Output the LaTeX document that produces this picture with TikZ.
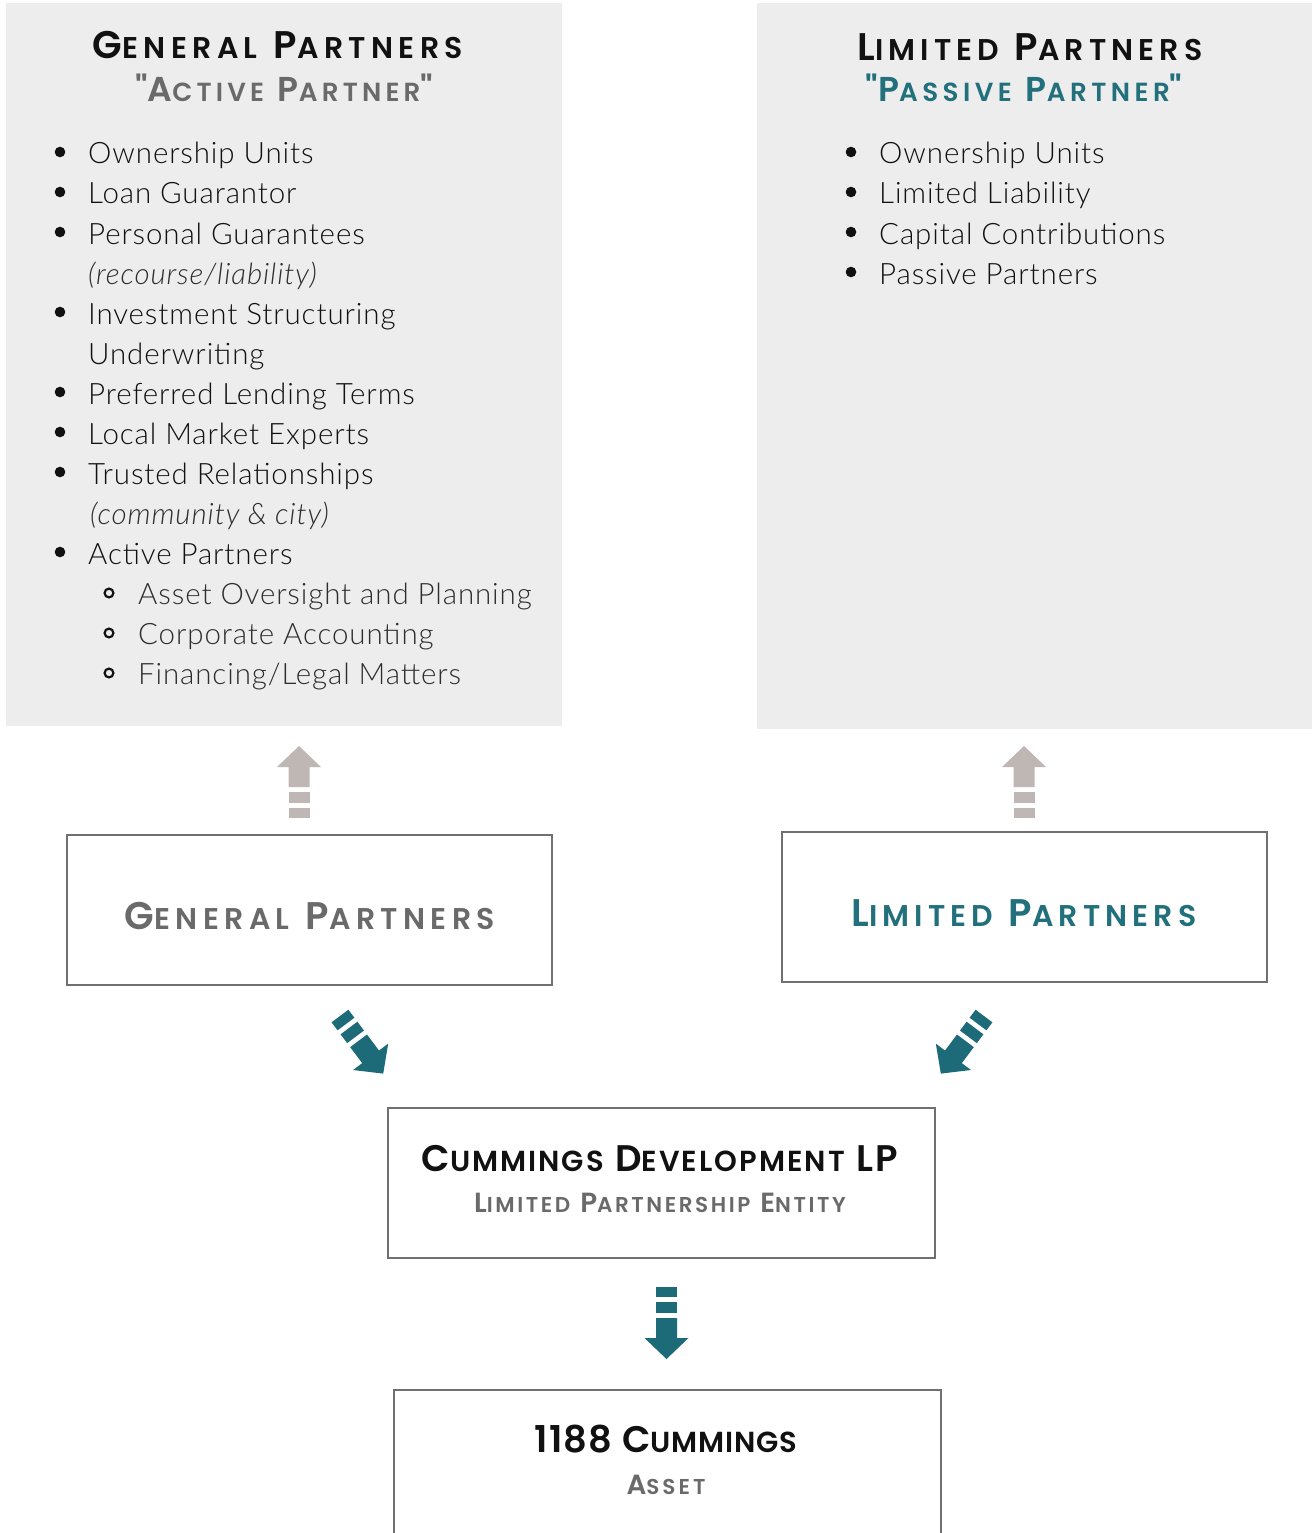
\documentclass[tikz,border=0pt]{standalone}
\usepackage{fontspec}
\newfontfamily\headfont{Poppins}[BoldFont=* SemiBold]
\newfontfamily\bodyfont{Lato}[UprightFont=* Light, ItalicFont=* Light Italic, LetterSpace=3]
\definecolor{panelgrey}{HTML}{EDEDED}
\definecolor{tealc}{HTML}{1D6B79}
\definecolor{tealtxt}{HTML}{21707C}
\definecolor{midgrey}{HTML}{6A6A6A}
\definecolor{boxline}{HTML}{707070}
\definecolor{arrowgrey}{HTML}{BEB7B3}
\definecolor{inkc}{HTML}{111111}
\definecolor{subink}{HTML}{2E2E2E}
% reduced capitals for the small-caps headings
\newcommand\lowcaps[1]{{\fontsize{\lcs}{\lcs}\selectfont #1}}
% tracking for the headings
\newcommand\track[1]{\addfontfeatures{LetterSpace=#1}}
% untracked quote mark
\newcommand\qm{{\addfontfeatures{LetterSpace=0}"}}
\tikzset{
  panel/.style={fill=panelgrey, draw=none, inner sep=0},
  framebox/.style={draw=boxline, line width=2.5pt, fill=white, inner sep=0},
  headA/.style={anchor=base, inner sep=0, font={\headfont\bfseries\fontsize{37}{37}\selectfont\def\lcs{29}}},
  headE/.style={anchor=base, inner sep=0, font={\headfont\bfseries\fontsize{38.5}{38.5}\selectfont\def\lcs{30}}},
  headB/.style={anchor=base, inner sep=0, font={\headfont\bfseries\fontsize{34.5}{34.5}\selectfont\def\lcs{26.2}}},
  headD/.style={anchor=base, inner sep=0, font={\headfont\bfseries\fontsize{27.7}{27.7}\selectfont\def\lcs{21.5}}},
  item/.style={anchor=base west, inner sep=0, text=inkc, font={\bodyfont\fontsize{29.5}{29.5}\selectfont}},
  subitem/.style={item, text=subink},
  note/.style={item, text=subink, font={\bodyfont\itshape\fontsize{29.5}{29.5}\selectfont}},
  pics/dasharrow/.style={code={
    \fill (0,-10.5) -- (10,-10.5) -- (10,10.5) -- (0,10.5) -- cycle;
    \fill (15,-10.5) -- (26,-10.5) -- (26,10.5) -- (15,10.5) -- cycle;
    \fill (31,-10.5) -- (51,-10.5) -- (51,-22) -- (72,0) -- (51,22) -- (51,10.5) -- (31,10.5) -- cycle;
  }}
}
\begin{document}
\begin{tikzpicture}[x=1pt, y=-1pt]
\useasboundingbox (0,0) rectangle (1312,1533);
\clip (0,0) rectangle (1312,1533);
\fill[white] (0,0) rectangle (1312,1533);

% ---- panels ----
\node[panel, minimum width=556pt, minimum height=723pt] (gppanel) at (284,364.5) {};
\node[panel, minimum width=555pt, minimum height=726pt] (lppanel) at (1034.5,366) {};

% general partners panel
\node[headE, text=inkc] (gptitle) at (278,59) {\track{18}G\lowcaps{ENERAL} P\lowcaps{ARTNERS}};
\node[headB, text=midgrey] (gpsub) at (284,102) {\track{16}\qm A\lowcaps{CTIVE} P\lowcaps{ARTNER}\qm};

\foreach \t [count=\i from 0] in {Ownership Units, Loan Guarantor, Personal Guarantees}
  {\node[item] (gpi\i) at (88,164+40*\i) {\t};
   \fill[inkc] (60,152+40*\i) circle (5.3);}
\node[note] (gpn1) at (88,284) {(recourse/liability)};
\node[item] (gpi4) at (88,324) {Investment Structuring};
\fill[inkc] (60,312) circle (5.3);
\node[item] (gpi5) at (88,364) {Underwriting};
\foreach \t [count=\i from 6] in {Preferred Lending Terms, Local Market Experts, Trusted Relationships}
  {\node[item] (gpi\i) at (88,164+40*\i) {\t};
   \fill[inkc] (60,152+40*\i) circle (5.3);}
\node[note] (gpn2) at (90,524) {(community \& city)};
\node[item] (gpi10) at (88,564) {Active Partners};
\fill[inkc] (60,552) circle (5.3);
\foreach \t [count=\i from 11] in {Asset Oversight and Planning, Corporate Accounting, Financing/Legal Matters}
  {\node[subitem] (gps\i) at (138,164+40*\i) {\t};
   \draw[inkc, line width=2.2pt] (109,153+40*\i) circle (4.4);}

% limited partners panel
\node[headE, text=inkc] (lptitle) at (1030,61) {\track{17}L\lowcaps{IMITED} P\lowcaps{ARTNERS}};
\node[headB, text=tealtxt] (lpsub) at (1024,102) {\track{17}\qm P\lowcaps{ASSIVE} P\lowcaps{ARTNER}\qm};
\foreach \t [count=\i from 0] in {Ownership Units, Limited Liability, Capital Contributions, Passive Partners}
  {\node[item] (lpi\i) at (879,164+40*\i) {\t};
   \fill[inkc] (851,152+40*\i) circle (5.3);}

% ---- boxes ----
\node[framebox, minimum width=485pt, minimum height=150pt] (gpbox) at (309.5,910) {};
\node[headE, text=midgrey] (gpboxtxt) at (310,929) {\track{18}G\lowcaps{ENERAL} P\lowcaps{ARTNERS}};
\node[framebox, minimum width=485pt, minimum height=150pt] (lpbox) at (1024.5,907) {};
\node[headE, text=tealtxt] (lpboxtxt) at (1024,926) {\track{17}L\lowcaps{IMITED} P\lowcaps{ARTNERS}};
\node[framebox, minimum width=547pt, minimum height=150pt] (lpent) at (661.5,1183) {};
\node[headA, text=inkc] (lpentA) at (660,1171) {\track{7}C\lowcaps{UMMINGS} D\lowcaps{EVELOPMENT} LP};
\node[headD, text=midgrey] (lpentB) at (660,1212) {\track{12}L\lowcaps{IMITED} P\lowcaps{ARTNERSHIP} E\lowcaps{NTITY}};
\node[framebox, minimum width=547pt, minimum height=150pt] (asset) at (667.5,1465) {};
\node[headA, text=inkc] (assetA) at (666,1452) {\track{3}1188 C\lowcaps{UMMINGS}};
\node[headD, text=midgrey] (assetB) at (666,1494) {\track{14}A\lowcaps{SSET}};

% ---- block arrows ----
\coordinate (gpup) at (299,818);
\coordinate (lpup) at (1024,818);
\coordinate (gpdiag) at (340,1016);
\coordinate (lpdiag) at (984,1016);
\coordinate (entdown) at (666.5,1287);
\begin{scope}[shift={(gpup)}, x={(0pt,1pt)}, y={(1pt,0pt)}, color=arrowgrey] \pic {dasharrow}; \end{scope}
\begin{scope}[shift={(lpup)}, x={(0pt,1pt)}, y={(1pt,0pt)}, color=arrowgrey] \pic {dasharrow}; \end{scope}
\begin{scope}[shift={(gpdiag)}, x={(0.6pt,-0.8pt)}, y={(0.8pt,0.6pt)}, color=tealc] \pic {dasharrow}; \end{scope}
\begin{scope}[shift={(lpdiag)}, x={(-0.6pt,-0.8pt)}, y={(0.8pt,-0.6pt)}, color=tealc] \pic {dasharrow}; \end{scope}
\begin{scope}[shift={(entdown)}, x={(0pt,-1pt)}, y={(1pt,0pt)}, color=tealc] \pic {dasharrow}; \end{scope}
\end{tikzpicture}
\end{document}
